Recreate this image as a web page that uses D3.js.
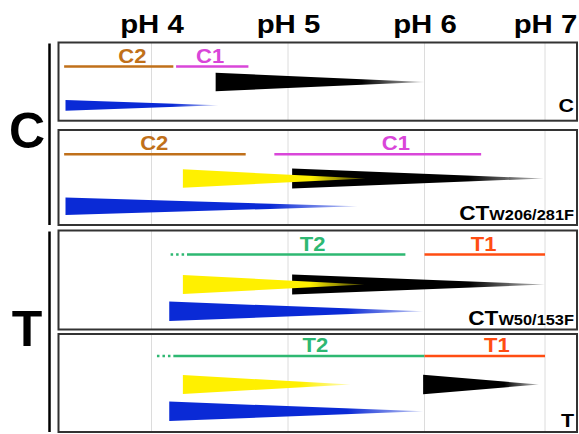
<!DOCTYPE html>
<html><head><meta charset="utf-8">
<script src="https://cdn.jsdelivr.net/npm/d3@7"></script>
<style>body{margin:0;background:#fff}svg{display:block}text{font-family:"Liberation Sans",Arial,sans-serif;font-weight:bold}</style>
</head><body><svg id="chart" width="579" height="434"></svg>
<script>
// ---------- data ----------
const phTicks = [4, 5, 6, 7];
const tickLabels = ["pH 4", "pH 5", "pH 6", "pH 7"];
const groupNames = ["C", "T"];
const groupPanels = [[0, 1], [2, 3]];
const panelNames = ["C", "CT", "CT", "T"];
const panelSubs = ["", "W206/281F", "W50/153F", ""];
// state ranges (pH)
const rangePanel   = [0, 0, 1, 1, 2, 2, 3, 3];
const rangeLabel   = ["C2", "C1", "C2", "C1", "T2", "T1", "T2", "T1"];
const rangeFrom    = [3.36, 4.18, 3.36, 4.90, 4.26, 6.00, 4.16, 6.00];
const rangeTo      = [4.16, 4.71, 4.69, 6.47, 5.86, 7.00, 6.00, 7.00];
const rangeDotFrom = [null, null, null, null, 4.14, null, 4.04, null];
const rangeLabelAt = [3.86, 4.43, 4.02, 5.79, 5.18, 6.49, 5.20, 6.60];
// population wedges (pH from -> tip, relative amplitude)
const wedgePanel   = [0, 0, 1, 1, 1, 2, 2, 2, 3, 3, 3];
const wedgeSpecies = ["black", "blue", "black", "yellow", "blue", "black", "yellow", "blue", "black", "yellow", "blue"];
const wedgeRow     = ["upper", "lower", "upper", "upper", "lower", "upper", "upper", "lower", "upper", "upper", "lower"];
const wedgeFrom    = [4.47, 3.37, 5.03, 4.23, 3.37, 5.03, 4.23, 4.13, 5.99, 4.23, 4.13];
const wedgeTo      = [6.00, 4.49, 6.99, 5.57, 5.51, 7.00, 5.56, 5.99, 6.95, 5.46, 5.99];
const wedgeAmp     = [0.92, 0.54, 1.00, 0.92, 0.87, 1.00, 0.95, 0.97, 0.97, 0.95, 0.97];

// ---------- layout ----------
const svg = d3.select("#chart");
const boxLeft = 58.5, boxRight = 577;
const panelTop = [42.5, 130, 230.5, 334];
const panelBottom = [120.7, 225, 329.5, 432];
const rowUpper = [39.5, 48.5, 54, 50.5];
const rowLower = [62.8, 76.3, 80.8, 77.3];
const lineOff = [24, 24.3, 24, 22];
const labelOff = [9, 5, 4.5, 5.5];
const SX = 1.13; // horizontal stretch of lettering

const x = d3.scaleLinear().domain(phTicks).range([151.5, 288, 424.5, 545]);
const thick = d3.scaleLinear().domain([0, 1]).range([0, 20]);
const speciesColor = d3.scaleOrdinal(["black", "yellow", "blue"], ["#000000", "#FFF000", "#0A2AD6"]);
const rangeColor = d3.scaleOrdinal(["C2", "C1", "T2", "T1"], ["#C0701A", "#D946D9", "#2EB872", "#FF4D12"]);

function stretchedText(sel, px, py) {
  return sel.append("text").attr("transform", `translate(${px},${py}) scale(${SX},1)`);
}

// gradients
const defs = svg.append("defs");
["black", "yellow", "blue"].forEach(s => {
  const g = defs.append("linearGradient").attr("id", "g-" + s).attr("x1", 0).attr("x2", 1).attr("y1", 0).attr("y2", 0);
  g.append("stop").attr("offset", 0).attr("stop-color", speciesColor(s)).attr("stop-opacity", 1);
  g.append("stop").attr("offset", 0.7).attr("stop-color", speciesColor(s)).attr("stop-opacity", 1);
  g.append("stop").attr("offset", 1).attr("stop-color", speciesColor(s)).attr("stop-opacity", 0.25);
});

// top axis
const axis = d3.axisTop(x).tickValues(phTicks).tickFormat((d, i) => tickLabels[i]).tickSize(0).tickPadding(0);
const ax = svg.append("g").attr("transform", "translate(0,33)").call(axis);
ax.select(".domain").remove();
ax.selectAll("text").attr("font-size", 26).attr("font-family", "Liberation Sans, Arial, sans-serif")
  .attr("font-weight", "bold").attr("fill", "#000").attr("transform", `scale(${SX},1)`);

// panels
panelTop.forEach((top, i) => {
  const bottom = panelBottom[i];
  const g = svg.append("g");
  g.selectAll("line.grid").data(phTicks).enter().append("line")
    .attr("x1", d => x(d)).attr("x2", d => x(d))
    .attr("y1", top).attr("y2", bottom)
    .attr("stroke", "#dcdcdc").attr("stroke-width", 1);
  g.append("rect").attr("x", boxLeft).attr("y", top)
    .attr("width", boxRight - boxLeft).attr("height", bottom - top)
    .attr("fill", "none").attr("stroke", "#333").attr("stroke-width", 2);
  const t = stretchedText(g, boxRight - 3, bottom - labelOff[i])
    .attr("text-anchor", "end").attr("fill", "#000");
  t.append("tspan").attr("font-size", panelSubs[i] ? 20 : 19).text(panelNames[i]);
  if (panelSubs[i]) t.append("tspan").attr("font-size", 14.5).text(panelSubs[i]);
});

// wedges
wedgePanel.forEach((p, i) => {
  const cy = panelTop[p] + (wedgeRow[i] === "upper" ? rowUpper[p] : rowLower[p]);
  const x0 = x(wedgeFrom[i]), x1 = x(wedgeTo[i]);
  const h = thick(wedgeAmp[i]) / 2;
  svg.append("path")
    .attr("d", `M${x0},${cy - h}L${x1},${cy}L${x0},${cy + h}Z`)
    .attr("fill", `url(#g-${wedgeSpecies[i]})`);
});

// state ranges
rangePanel.forEach((p, i) => {
  const y = panelTop[p] + lineOff[p];
  const c = rangeColor(rangeLabel[i]);
  svg.append("line").attr("x1", x(rangeFrom[i])).attr("x2", x(rangeTo[i]))
    .attr("y1", y).attr("y2", y).attr("stroke", c).attr("stroke-width", 2.6);
  if (rangeDotFrom[i] != null) {
    svg.append("line").attr("x1", x(rangeDotFrom[i])).attr("x2", x(rangeFrom[i]) - 2)
      .attr("y1", y).attr("y2", y).attr("stroke", c).attr("stroke-width", 2.6)
      .attr("stroke-dasharray", "2.5,3");
  }
  stretchedText(svg, x(rangeLabelAt[i]), y - 4)
    .attr("text-anchor", "middle").attr("font-size", 19.5).attr("fill", c).text(rangeLabel[i]);
});

// group brackets and letters
groupPanels.forEach((ps, i) => {
  const y0 = panelTop[ps[0]] + 1, y1 = panelBottom[ps[ps.length - 1]];
  svg.append("line").attr("x1", 49.5).attr("x2", 49.5).attr("y1", y0).attr("y2", y1)
    .attr("stroke", "#000").attr("stroke-width", 2.5);
  svg.append("text").attr("x", 27).attr("y", (y0 + y1) / 2 + 14)
    .attr("text-anchor", "middle").attr("font-size", 50).attr("fill", "#000").text(groupNames[i]);
});
</script></body></html>
